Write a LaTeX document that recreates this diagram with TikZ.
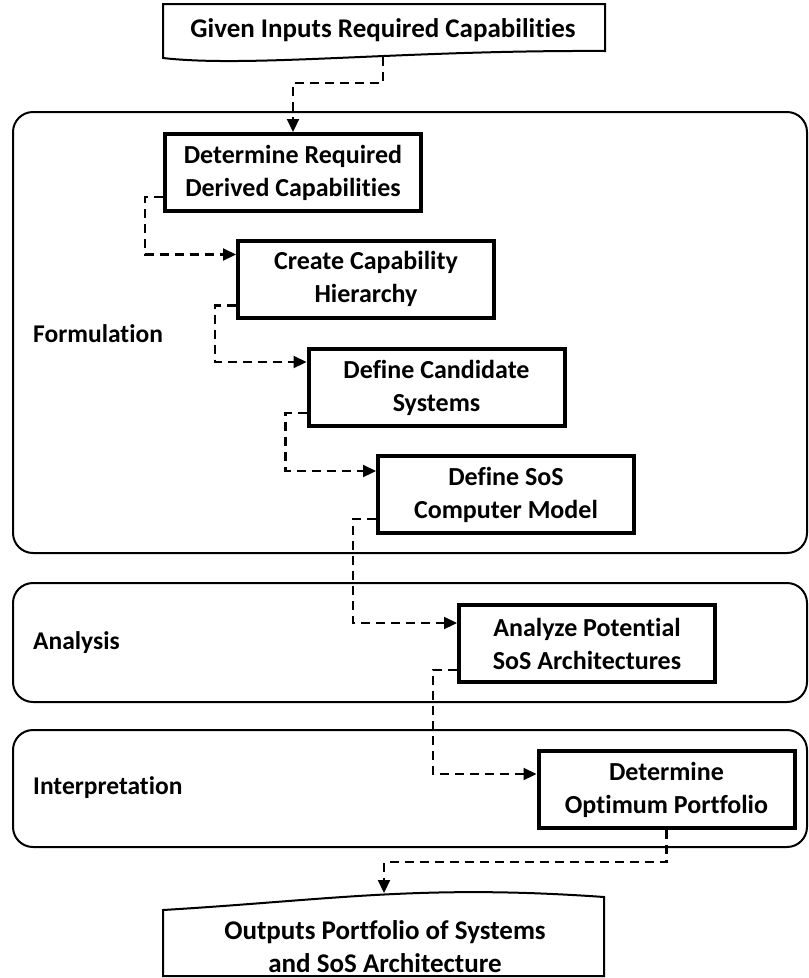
\documentclass[tikz,border=0pt]{standalone}
\usepackage{fontspec}
\setmainfont{Carlito}[Ligatures=NoCommon]
\usetikzlibrary{arrows.meta}

\tikzset{
  txt/.style={font=\fontsize{27}{33}\selectfont\bfseries},
  boxtxt/.style={font=\fontsize{26}{33}\selectfont\bfseries},
  procbox/.style={boxtxt, draw, line width=4pt, minimum width=256pt, minimum height=77pt,
    align=center, inner sep=0pt, fill=white},
  phasebox/.style={draw, line width=2pt, rounded corners=20pt, inner sep=0pt},
  phaselabel/.style={font=\fontsize{25.5}{30}\selectfont\bfseries, anchor=west, inner sep=0pt},
  docshape/.style={draw, line width=2pt},
  doctext/.style={txt, align=center, inner sep=0pt},
  flow/.style={line width=2.2pt, dash pattern=on 9pt off 6pt,
    -{Triangle[length=13pt,width=12pt]}}
}

\begin{document}
\begin{tikzpicture}[x=1pt,y=-1pt]
  \useasboundingbox (0,0) rectangle (809,978);

  % phase containers
  \node[phasebox, minimum width=794pt, minimum height=441pt] (formulation) at (410,332.5) {};
  \node[phasebox, minimum width=794pt, minimum height=119pt] (analysis) at (410,642.5) {};
  \node[phasebox, minimum width=794pt, minimum height=117pt] (interpretation) at (410,788.5) {};
  \node[phaselabel] (lform) at (33,334) {Formulation};
  \node[phaselabel] (lanal) at (33,643) {Analysis};
  \node[phaselabel] (linter) at (33,788) {Interpretation};

  % input document
  \draw[docshape] (163,58) -- (163,4) -- (605,4) -- (605,51)
    .. controls (400,50) and (250,68) .. (163,58) -- cycle;
  \node[doctext] (given) at (383,30) {Given Inputs Required Capabilities};
  \coordinate (inA) at (383,57);

  % output document
  \draw[docshape] (163,910) .. controls (330,900) and (420,884) .. (604,897)
    -- (604,976) -- (163,976) -- cycle;
  \node[doctext] (outputs) at (385,947) {Outputs Portfolio of Systems\\and SoS Architecture};
  \coordinate (outA) at (384,893);

  % process steps
  \node[procbox] (b1) at (293,172.5) {Determine Required\\Derived Capabilities};
  \node[procbox] (b2) at (366,279) {Create Capability\\Hierarchy};
  \node[procbox] (b3) at (436.5,387.5) {Define Candidate\\Systems};
  \node[procbox] (b4) at (506,494.5) {Define SoS\\Computer Model};
  \node[procbox] (b5) at (587,643.5) {Analyze Potential\\SoS Architectures};
  \node[procbox] (b6) at (666.5,789.5) {Determine\\Optimum Portfolio};

  % connectors
  \draw[flow] (inA) -- ++(0,26) -| (b1.north);
  \draw[flow] ([yshift=16pt]b1.south west) -- ++(-18,0) |- ([yshift=-16pt]b2.north west);
  \draw[flow] ([yshift=14pt]b2.south west) -- ++(-21,0) |- ([yshift=-15pt]b3.north west);
  \draw[flow] ([yshift=15pt]b3.south west) -- ++(-21,0) |- ([yshift=-17pt]b4.north west);
  \draw[flow] ([yshift=16pt]b4.south west) -- ++(-23,0) |- ([yshift=-20pt]b5.north west);
  \draw[flow] ([yshift=14pt]b5.south west) -- ++(-24,0) |- ([yshift=-25pt]b6.north west);
  \draw[flow] (b6.south) -- ++(0,32) -| (outA);
\end{tikzpicture}
\end{document}
